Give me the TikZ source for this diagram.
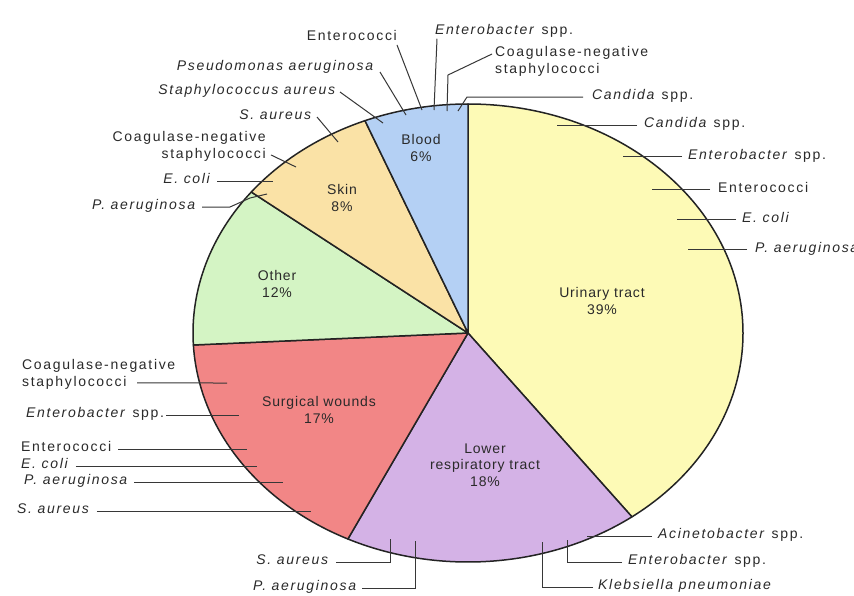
\documentclass[tikz,border=0pt]{standalone}
\usepackage{fontspec}
\setmainfont{Liberation Sans}
\newfontfamily\lblfont[LetterSpace=12]{Liberation Sans}
\newfontfamily\slcfont[LetterSpace=6]{Liberation Sans}
\definecolor{urin}{RGB}{253,250,182}
\definecolor{lowr}{RGB}{212,178,230}
\definecolor{surg}{RGB}{242,134,134}
\definecolor{othr}{RGB}{212,244,196}
\definecolor{skin}{RGB}{250,226,166}
\definecolor{blod}{RGB}{180,208,244}
\definecolor{txtgray}{RGB}{42,42,42}
\definecolor{leadgray}{RGB}{55,55,55}
\definecolor{outl}{RGB}{35,35,35}
\tikzset{
  lbl/.style={font=\lblfont\fontsize{14}{17}\selectfont, text=txtgray, inner sep=0pt},
  slc/.style={font=\slcfont\fontsize{14}{16.5}\selectfont, text=txtgray, align=center, inner sep=0pt},
  lead/.style={draw=leadgray, line width=1pt},
  slice/.style={draw=outl, line width=1.5pt, line join=round}
}
\begin{document}
\begin{tikzpicture}[x=1pt,y=1pt]
\useasboundingbox (0,0) rectangle (854,-595);
\fill[white] (0,0) rectangle (854,-595);
% pie (ellipse centre 468,-333; radii 275 x 229)
\coordinate (c) at (468,-333);
\filldraw[slice, fill=urin] (c) -- ++(90:275pt and 229pt) arc[start angle=90, end angle=-53.4, x radius=275pt, y radius=229pt] -- cycle;
\filldraw[slice, fill=lowr] (c) -- ++(-53.4:275pt and 229pt) arc[start angle=-53.4, end angle=-115.9, x radius=275pt, y radius=229pt] -- cycle;
\filldraw[slice, fill=surg] (c) -- ++(-115.9:275pt and 229pt) arc[start angle=-115.9, end angle=-177, x radius=275pt, y radius=229pt] -- cycle;
\filldraw[slice, fill=othr] (c) -- ++(-177:275pt and 229pt) arc[start angle=-177, end angle=-218, x radius=275pt, y radius=229pt] -- cycle;
\filldraw[slice, fill=skin] (c) -- ++(-218:275pt and 229pt) arc[start angle=-218, end angle=-248, x radius=275pt, y radius=229pt] -- cycle;
\filldraw[slice, fill=blod] (c) -- ++(-248:275pt and 229pt) arc[start angle=-248, end angle=-270, x radius=275pt, y radius=229pt] -- cycle;
% slice labels
\node[slc] (sBlood) at (421,-148) {Blood\\6\%};
\node[slc] (sSkin) at (342,-198) {Skin\\8\%};
\node[slc] (sOther) at (277,-284) {Other\\12\%};
\node[slc] (sUrin) at (602,-301) {Urinary tract\\39\%};
\node[slc] (sSurg) at (319,-410) {Surgical wounds\\17\%};
\node[slc] (sLowr) at (485,-465) {Lower\\respiratory tract\\18\%};
% ---- Blood labels (top)
\node[lbl, anchor=mid east] (tEnc) at (397,-38) {Enterococci};
\coordinate (tEncP) at (422,-110);
\draw[lead] ([yshift=-4pt]tEnc.south east) -- (tEncP);
\node[lbl, anchor=mid west] (tEnb) at (435,-32) {\textit{Enterobacter} spp.};
\coordinate (tEnbP) at (434,-110);
\draw[lead] ([xshift=2pt,yshift=-1pt]tEnb.south west) -- (tEnbP);
\node[lbl, anchor=north west, align=left] (tCns) at (495,-46) {Coagulase-negative\\staphylococci};
\coordinate (tCnsP) at (447,-111);
\draw[lead] ([shift={(-3pt,-8pt)}]tCns.north west) -- (448,-75) -- (tCnsP);
\node[lbl, anchor=mid west] (tCan) at (592,-97) {\textit{Candida} spp.};
\coordinate (tCanP) at (458,-111);
\draw[lead] ([xshift=-9pt]tCan.mid west) -- (467,-97) -- (tCanP);
\node[lbl, anchor=mid east] (tPse) at (375,-68) {\textit{Pseudomonas aeruginosa}};
\coordinate (tPseP) at (406,-115);
\draw[lead] ([shift={(5pt,-4pt)}]tPse.mid east) -- (tPseP);
\node[lbl, anchor=mid east] (tSta) at (337,-92) {\textit{Staphylococcus aureus}};
\coordinate (tStaP) at (383,-123);
\draw[lead] ([xshift=3pt]tSta.mid east) -- (tStaP);
% ---- Urinary tract labels (right)
\node[lbl, anchor=mid west] (rCan) at (644,-125) {\textit{Candida} spp.};
\coordinate (rCanP) at (557,-125);
\draw[lead] ([xshift=-7pt]rCan.mid west) -- (rCanP);
\node[lbl, anchor=mid west] (rEnb) at (688,-157) {\textit{Enterobacter} spp.};
\coordinate (rEnbP) at (623,-156);
\draw[lead] ([xshift=-6pt,yshift=1pt]rEnb.mid west) -- (rEnbP);
\node[lbl, anchor=mid west] (rEnc) at (718,-190) {Enterococci};
\coordinate (rEncP) at (652,-189);
\draw[lead] ([xshift=-8pt,yshift=1pt]rEnc.mid west) -- (rEncP);
\node[lbl, anchor=mid west] (rEco) at (742,-220) {\textit{E. coli}};
\coordinate (rEcoP) at (677,-219);
\draw[lead] ([xshift=-6pt,yshift=1pt]rEco.mid west) -- (rEcoP);
\node[lbl, anchor=mid west] (rPae) at (755,-250) {\textit{P. aeruginosa}};
\coordinate (rPaeP) at (688,-249);
\draw[lead] ([xshift=-8pt,yshift=1pt]rPae.mid west) -- (rPaeP);
% ---- Skin labels
\node[lbl, anchor=mid east] (sSau) at (313,-117) {\textit{S. aureus}};
\coordinate (sSauP) at (338,-142);
\draw[lead] ([xshift=4pt]sSau.mid east) -- (sSauP);
\node[lbl, anchor=north east, align=right] (sCns) at (266,-131) {Coagulase-negative\\staphylococci};
\coordinate (sCnsP) at (296,-167);
\draw[lead] ([shift={(5pt,6.5pt)}]sCns.south east) -- (sCnsP);
\node[lbl, anchor=mid east] (sEco) at (212,-181) {\textit{E. coli}};
\coordinate (sEcoP) at (273,-181);
\draw[lead] ([xshift=5pt]sEco.mid east) -- (sEcoP);
\node[lbl, anchor=mid east] (sPae) at (197,-207) {\textit{P. aeruginosa}};
\coordinate (sPaeP) at (267,-194);
\draw[lead] ([xshift=5pt]sPae.mid east) -- (230,-207) -- (250,-198) -- (sPaeP);
% ---- Surgical wound labels
\node[lbl, anchor=north west, align=left] (gCns) at (22,-359) {Coagulase-negative\\staphylococci};
\coordinate (gCnsP) at (227,-383);
\draw[lead] ([shift={(115pt,6.5pt)}]gCns.south west) -- (gCnsP);
\node[lbl, anchor=mid west] (gEnb) at (26,-415) {\textit{Enterobacter} spp.};
\coordinate (gEnbP) at (239,-415);
\draw[lead] ([xshift=2pt]gEnb.mid east) -- (gEnbP);
\node[lbl, anchor=mid west] (gEnc) at (21,-449) {Enterococci};
\coordinate (gEncP) at (247,-449);
\draw[lead] ([xshift=7pt]gEnc.mid east) -- (gEncP);
\node[lbl, anchor=mid west] (gEco) at (21,-466) {\textit{E. coli}};
\coordinate (gEcoP) at (257,-466);
\draw[lead] ([xshift=6pt]gEco.mid east) -- (gEcoP);
\node[lbl, anchor=mid west] (gPae) at (24,-482) {\textit{P. aeruginosa}};
\coordinate (gPaeP) at (283,-482);
\draw[lead] ([xshift=5pt]gPae.mid east) -- (gPaeP);
\node[lbl, anchor=mid west] (gSau) at (17,-511) {\textit{S. aureus}};
\coordinate (gSauP) at (311,-511);
\draw[lead] ([xshift=6pt]gSau.mid east) -- (gSauP);
% ---- Lower respiratory tract labels
\node[lbl, anchor=mid east] (bSau) at (330,-562) {\textit{S. aureus}};
\coordinate (bSauP) at (390,-539);
\draw[lead] ([xshift=6pt]bSau.mid east) -| (bSauP);
\node[lbl, anchor=mid east] (bPae) at (358,-588) {\textit{P. aeruginosa}};
\coordinate (bPaeP) at (415,-541);
\draw[lead] ([xshift=4pt]bPae.mid east) -| (bPaeP);
\node[lbl, anchor=mid west] (bKle) at (598,-587) {\textit{Klebsiella pneumoniae}};
\coordinate (bKleP) at (542,-542);
\draw[lead] ([xshift=-5pt]bKle.mid west) -| (bKleP);
\node[lbl, anchor=mid west] (bEnb) at (628,-562) {\textit{Enterobacter} spp.};
\coordinate (bEnbP) at (567,-540);
\draw[lead] ([xshift=-6pt]bEnb.mid west) -| (bEnbP);
\node[lbl, anchor=mid west] (bAci) at (658,-536) {\textit{Acinetobacter} spp.};
\coordinate (bAciP) at (587,-536);
\draw[lead] ([xshift=-6pt]bAci.mid west) -- (bAciP);
\end{tikzpicture}
\end{document}
